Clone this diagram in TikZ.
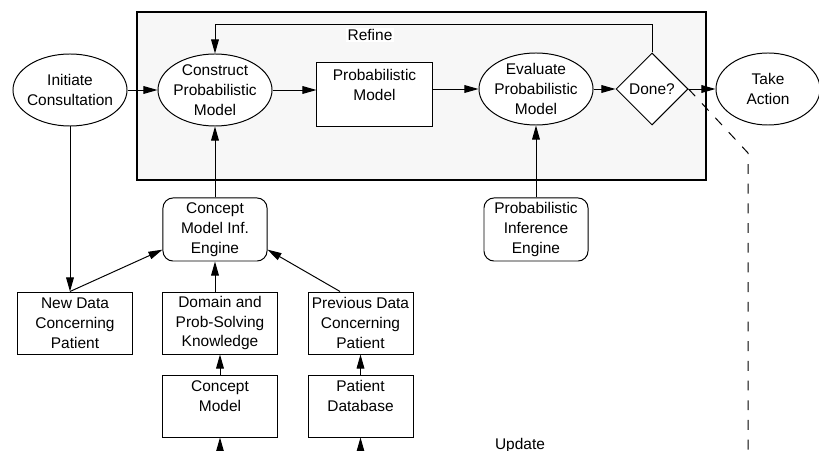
\documentclass[tikz,border=0pt]{standalone}
\usepackage{fontspec}
\setmainfont{Liberation Sans}
\usetikzlibrary{shapes.geometric,arrows.meta}

\begin{document}
\begin{tikzpicture}
  [x=0.025cm,y=-0.025cm,line width=0.7pt,
   every node/.style={font=\fontsize{11}{14.2}\selectfont,align=center,inner sep=1pt},
   ell/.style={ellipse,draw,fill=white,inner xsep=-1pt,inner ysep=-1.5pt,minimum width=2.85cm,minimum height=1.8cm},
   box/.style={rectangle,draw,fill=white,minimum width=2.85cm,minimum height=1.55cm},
   rbox/.style={rectangle,draw,fill=white,rounded corners=0.25cm,minimum width=2.6cm,minimum height=1.575cm},
   arr/.style={-{Triangle[length=10pt,width=5.5pt]}},
   dline/.style={dash pattern=on 7pt off 7pt}]
  \useasboundingbox (0,0) rectangle (819,451);
  \clip (0,0) rectangle (819,451);

  \node (frame) [draw,line width=2pt,fill=black!3,minimum width=14.225cm,minimum height=4.2cm] at (421.5,96) {};

  \node (initiate) [ell,inner xsep=-3pt] at (70,90) {Initiate\\Consultation};
  \node (construct) [ell] at (215,90) {Construct\\Probabilistic\\Model};
  \node (pm) [box,minimum width=2.875cm,minimum height=1.575cm] at (374.5,94.5) {Probabilistic\\Model\\\mbox{}};
  \node (evaluate) [ell] at (536,89) {Evaluate\\Probabilistic\\Model};
  \node (done) [diamond,draw,fill=white,inner sep=0pt,minimum size=1.8cm] at (652,89) {Done?};
  \node (take) [ell,minimum width=2.6cm] at (768,89) {Take\\Action};
  \node (refine) [fill=white] at (370,35) {Refine};

  \node (engine) [rbox] at (215,229.5) {Concept\\Model Inf.\\Engine};
  \node (pie) [rbox] at (536,229.5) {Probabilistic\\Inference\\Engine};

  \node (newdata) [box] at (75,323) {New Data\\Concerning\\Patient};
  \node (domain) [box] at (220,323) {Domain and\\Prob-Solving\\Knowledge};
  \node (prev) [box,minimum width=2.625cm] at (360.5,323) {Previous Data\\Concerning\\Patient};
  \node (cmodel) [box] at (220,406) {Concept\\Model\\\mbox{}};
  \node (pdb) [box,minimum width=2.625cm] at (360.5,406) {Patient\\Database\\\mbox{}};
  \node (update) at (520,445) {Update};

  \coordinate (nd) at (initiate |- newdata.north);
  \coordinate (cin) at ([yshift=-1cm]cmodel.south);
  \coordinate (pin) at ([yshift=-1cm]pdb.south);
  \coordinate (bend) at (748,153);
  \coordinate (dend) at (748,470);

  \foreach \from/\to in {initiate/construct,evaluate/done,done/take,engine/construct,pie/evaluate,cmodel/domain,pdb/prev,cin/cmodel.south,pin/pdb.south}
    \draw[arr] (\from) -- (\to);

  \draw[arr] (construct) -- (construct -| pm.west);
  \draw[arr] (pm.east |- evaluate) -- (evaluate);
  \draw[arr] (done.north) -- ++(0,-28) -| (construct.north);
  \draw[arr] (initiate) -- (nd);
  \draw[arr] (nd) -- (engine.201);
  \draw[arr] (prev.123) -- (engine.339);
  \draw[arr] (engine |- domain.north) -- (engine.south);
  \draw[dline] (done.east) -- (bend) -- (dend);
\end{tikzpicture}
\end{document}
